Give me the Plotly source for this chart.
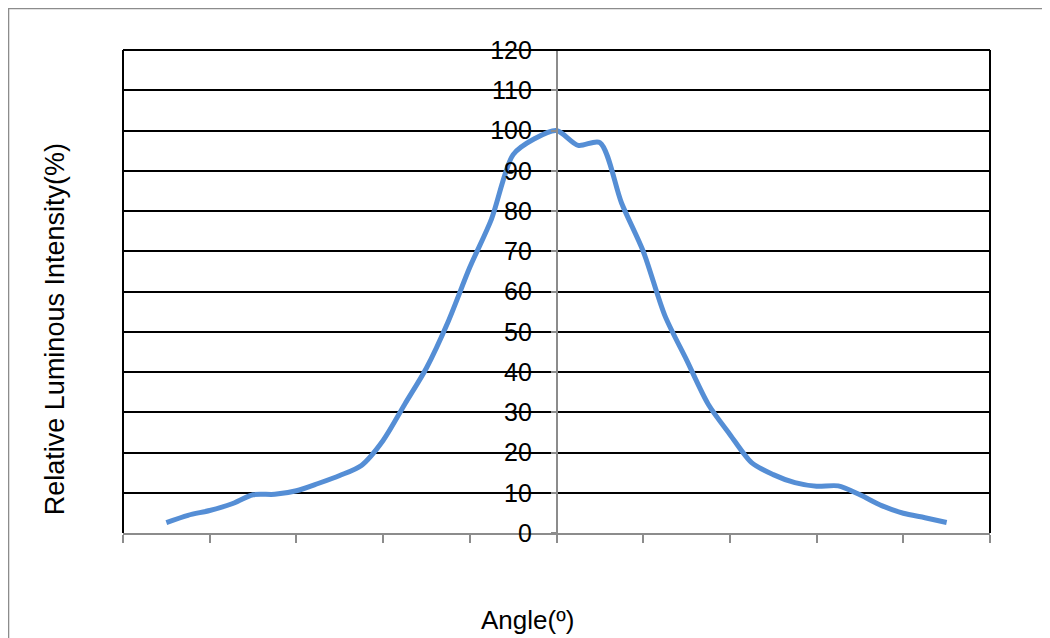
import plotly.graph_objects as go

angles = [-90, -85, -80, -75, -70, -65, -60, -55, -50, -45, -40, -35, -30, -25, -20, -15, -10, -5,
          0, 5, 10, 15, 20, 25, 30, 35, 40, 45, 50, 55, 60, 65, 70, 75, 80, 85, 90]
intensity = [2.6, 4.4, 5.6, 7.2, 9.5, 9.6, 10.5, 12.3, 14.3, 16.8, 23, 32, 41, 52.5, 66, 78, 94, 98,
             100, 96.3, 97, 82, 70, 54, 43, 32, 24.5, 17.5, 14.5, 12.5, 11.6, 11.7, 9.5, 6.8, 4.9, 3.8, 2.6]
y_ticks = [0, 10, 20, 30, 40, 50, 60, 70, 80, 90, 100, 110, 120]
y_tick_labels = [str(v) for v in y_ticks]
x_ticks = [-100, -80, -60, -40, -20, 0, 20, 40, 60, 80, 100]

fig = go.Figure()
fig.add_trace(go.Scatter(
    x=angles, y=intensity, mode="lines",
    line=dict(color="#558ED5", width=5, shape="spline", smoothing=0.8),
    showlegend=False, hoverinfo="skip"))

font = "Liberation Sans, Arial, sans-serif"
pad = "\u00a0\u00a0"
fig.update_layout(
    width=1050, height=638,
    margin=dict(l=115, r=68, t=42, b=113),
    paper_bgcolor="white", plot_bgcolor="white",
    font=dict(family=font, color="black"),
    xaxis=dict(range=[-100, 100], tickvals=x_ticks, showticklabels=False,
               ticks="outside", ticklen=8, tickcolor="#8c8c8c", tickwidth=1.5,
               showgrid=False, zeroline=False, showline=True, linecolor="#8c8c8c", linewidth=2),
    yaxis=dict(range=[0, 120], tickvals=y_ticks, ticktext=[t + pad for t in y_tick_labels],
               anchor="free", position=0.5,
               ticks="outside", ticklen=5, tickcolor="#8c8c8c", tickwidth=1.5,
               tickfont=dict(size=25, family=font, color="black"),
               showgrid=True, gridcolor="black", gridwidth=2, zeroline=False,
               showline=True, linecolor="#8c8c8c", linewidth=1.5),
    shapes=[
        dict(type="line", xref="paper", yref="paper", x0=0, x1=1, y0=1, y1=1,
             line=dict(color="black", width=2)),
        dict(type="line", xref="paper", yref="paper", x0=0, x1=0, y0=0, y1=1,
             line=dict(color="black", width=2)),
        dict(type="line", xref="paper", yref="paper", x0=1, x1=1, y0=0, y1=1,
             line=dict(color="black", width=2)),
        dict(type="rect", xref="paper", yref="paper", x0=-0.1326, x1=1.2, y0=-0.4, y1=1.087,
             line=dict(color="#8c8c8c", width=2.5), layer="below"),
    ],
    annotations=[
        dict(text="Relative Luminous Intensity(%)", xref="paper", yref="paper",
             x=-0.0784, y=0.422, textangle=-90, showarrow=False,
             font=dict(size=27, family=font, color="black"), xanchor="center", yanchor="middle"),
        dict(text="Angle(º)", xref="paper", yref="paper",
             x=0.466, y=-0.18, showarrow=False,
             font=dict(size=26, family=font, color="black"), xanchor="center", yanchor="middle"),
    ],
)

fig.write_html("out.html")
